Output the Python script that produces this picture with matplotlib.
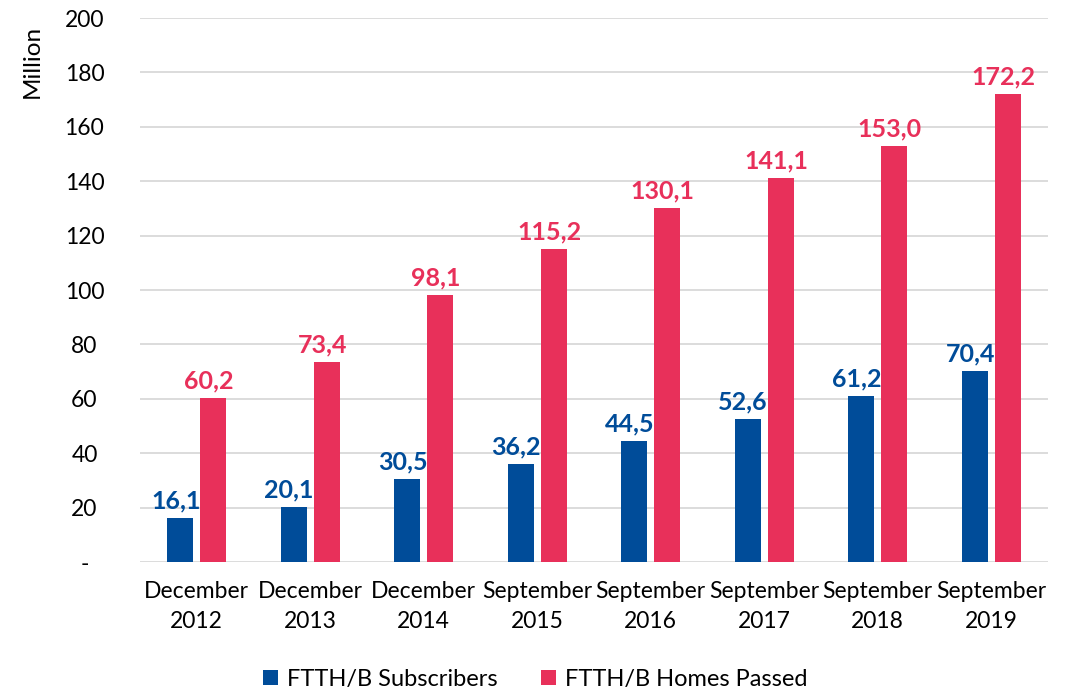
import numpy as np
import matplotlib.pyplot as plt
from matplotlib.ticker import FuncFormatter

plt.rcParams['font.family'] = ['Lato', 'DejaVu Sans']

periods = ["December\n2012", "December\n2013", "December\n2014", "September\n2015",
           "September\n2016", "September\n2017", "September\n2018", "September\n2019"]
subscribers = [16.1, 20.1, 30.5, 36.2, 44.5, 52.6, 61.2, 70.4]
homes_passed = [60.2, 73.4, 98.1, 115.2, 130.1, 141.1, 153.0, 172.2]

blue = "#004c99"
red = "#e8305a"

fig = plt.figure(figsize=(10.71, 6.9), dpi=100)
ax = fig.add_axes([0.1307, 0.1855, 0.8478, 0.7884])

x = np.arange(len(periods))
w = 0.23
b1 = ax.bar(x - 0.145, subscribers, w, color=blue, label="FTTH/B Subscribers", zorder=3)
b2 = ax.bar(x + 0.145, homes_passed, w, color=red, label="FTTH/B Homes Passed", zorder=3)

# data labels sit a touch left of the bar centre, like the original
for bars, vals, col in [(b1, subscribers, blue), (b2, homes_passed, red)]:
    for rect, v in zip(bars, vals):
        ax.text(rect.get_x() + rect.get_width() / 2 - 0.04, v + 2, f"{v:.1f}".replace(".", ","),
                ha="center", va="bottom", color=col, fontsize=18, fontweight="bold")

ax.set_xlim(-0.5, len(periods) - 0.5)
ax.set_ylim(0, 200)
ax.set_yticks(np.arange(0, 201, 20))
ax.yaxis.set_major_formatter(FuncFormatter(lambda v, p: "-" if v == 0 else f"{v:.0f}"))
ax.set_xticks(x)
ax.set_xticklabels(periods, fontsize=16.5, linespacing=1.5)
ax.tick_params(axis="y", labelsize=16.5, length=0, pad=40)
ax.tick_params(axis="x", length=0, pad=14)
for lab in ax.get_yticklabels():
    lab.set_horizontalalignment("center")

ax.grid(axis="y", color="#d9d9d9", linewidth=1.3, zorder=0)
for s in ax.spines.values():
    s.set_visible(False)

ax.set_ylabel("Million", fontsize=17.5)
ax.yaxis.set_label_coords(-0.107, 0.92)

fig.legend(loc="lower center", bbox_to_anchor=(0.5, -0.031), ncol=2, frameon=False,
           fontsize=17, handlelength=0.6, handleheight=0.6, columnspacing=1.85,
           handletextpad=0.4)

fig.savefig("out.png", dpi=100)
